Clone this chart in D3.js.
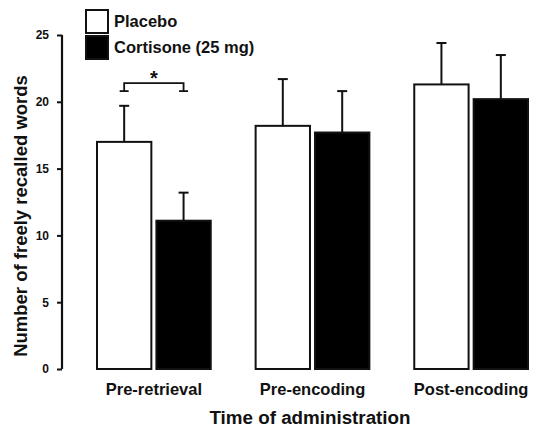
<!DOCTYPE html>
<html>
<head>
<meta charset="utf-8">
<script src="https://cdn.jsdelivr.net/npm/d3@7"></script>
<style>
  body { margin: 0; background: #fff; }
  text { font-family: "Liberation Sans", Arial, Helvetica, sans-serif; font-weight: bold; fill: #111; }
</style>
</head>
<body>
<svg id="chart"></svg>
<script>
var groups = ["Pre-retrieval", "Pre-encoding", "Post-encoding"];
var series = ["Placebo", "Cortisone (25 mg)"];
var placeboMean = [17.0, 18.2, 21.3];
var placeboErr = [2.7, 3.5, 3.1];
var cortisoneMean = [11.1, 17.7, 20.2];
var cortisoneErr = [2.1, 3.1, 3.3];
var yTicks = [0, 5, 10, 15, 20, 25];
// significance bracket over the first group
var sigGroup = "Pre-retrieval";
var sigLow = 20.8, sigHigh = 21.4;

var width = 541, height = 429;
var svg = d3.select("#chart").attr("width", width).attr("height", height);

var rows = [];
groups.forEach(function(g, i) {
  rows.push({ group: g, s: series[0], mean: placeboMean[i], err: placeboErr[i] });
  rows.push({ group: g, s: series[1], mean: cortisoneMean[i], err: cortisoneErr[i] });
});

var y = d3.scaleLinear().domain([0, 25]).range([369, 35]);

var x0 = d3.scaleBand().domain(groups).range([97, 528]).paddingInner(0.283).paddingOuter(0);
var x1 = d3.scaleBand().domain(series).range([0, x0.bandwidth()]).paddingInner(0.085);
var fill = d3.scaleOrdinal().domain(series).range(["#fff", "#000"]);

// y axis
var yAxis = d3.axisLeft(y).tickValues(yTicks).tickSize(5).tickPadding(8).tickFormat(d3.format("d"));
var ga = svg.append("g").attr("transform", "translate(62,0)").call(yAxis);
ga.select(".domain").attr("stroke", "#111").attr("stroke-width", 2.2).attr("d", "M0," + y(0) + "V" + y(25));
ga.selectAll(".tick line").attr("stroke", "#111").attr("stroke-width", 2);
ga.selectAll(".tick text").style("font-size", "12px").style("font-family", "Liberation Sans, Arial, sans-serif").style("font-weight", "bold").attr("fill", "#111");

// error bars (drawn first, the bars cover the lower part)
var bx = function(d) { return x0(d.group) + x1(d.s); };
var cx = function(d) { return bx(d) + x1.bandwidth() / 2; };

var err = svg.append("g").attr("stroke", "#111").attr("stroke-width", 2);
err.selectAll(".eline").data(rows).enter().append("line")
    .attr("x1", cx).attr("x2", cx)
    .attr("y1", function(d) { return y(d.mean); })
    .attr("y2", function(d) { return y(d.mean + d.err); });
err.selectAll(".ecap").data(rows).enter().append("line")
    .attr("x1", function(d) { return cx(d) - 5; })
    .attr("x2", function(d) { return cx(d) + 5; })
    .attr("y1", function(d) { return y(d.mean + d.err); })
    .attr("y2", function(d) { return y(d.mean + d.err); });

// bars
svg.append("g").selectAll("rect").data(rows).enter().append("rect")
    .attr("x", bx)
    .attr("y", function(d) { return y(d.mean); })
    .attr("width", x1.bandwidth())
    .attr("height", function(d) { return y(0) - y(d.mean); })
    .attr("fill", function(d) { return fill(d.s); })
    .attr("stroke", "#111")
    .attr("stroke-width", 2);

// significance bracket
var bL = x0(sigGroup) + x1(series[0]) + x1.bandwidth() / 2;
var bR = x0(sigGroup) + x1(series[1]) + x1.bandwidth() / 2;
var br = svg.append("g").attr("stroke", "#111").attr("stroke-width", 1.8).attr("fill", "none");
br.append("path").attr("d", "M" + bL + "," + y(sigLow) + "V" + y(sigHigh) + "H" + bR + "V" + y(sigLow));
br.append("line").attr("x1", bL - 4.5).attr("x2", bL + 4.5).attr("y1", y(sigLow)).attr("y2", y(sigLow));
br.append("line").attr("x1", bR - 4.5).attr("x2", bR + 4.5).attr("y1", y(sigLow)).attr("y2", y(sigLow));
svg.append("text").attr("x", (bL + bR) / 2).attr("y", y(sigHigh) + 2)
    .attr("text-anchor", "middle").style("font-size", "20px").text("*");

// category labels
svg.append("g").selectAll("text").data(groups).enter().append("text")
    .attr("x", function(d) { return x0(d) + x0.bandwidth() / 2; })
    .attr("y", 395)
    .attr("text-anchor", "middle")
    .style("font-size", "16.5px")
    .text(function(d) { return d; });

// axis titles
svg.append("text").attr("x", 310).attr("y", 424).attr("text-anchor", "middle")
    .style("font-size", "18.8px").text("Time of administration");
svg.append("text").attr("transform", "translate(27,216) rotate(-90)").attr("text-anchor", "middle")
    .style("font-size", "18.5px").text("Number of freely recalled words");

// legend
var legend = svg.append("g").selectAll(".legend").data(series).enter().append("g")
    .attr("class", "legend")
    .attr("transform", function(d, i) { return "translate(86," + (10 + i * 26) + ")"; });
legend.append("rect").attr("width", 22).attr("height", 23)
    .attr("fill", function(d) { return fill(d); })
    .attr("stroke", "#111").attr("stroke-width", 2);
legend.append("text").attr("x", 28).attr("y", 17).style("font-size", "16.5px").text(function(d) { return d; });
</script>
</body>
</html>
